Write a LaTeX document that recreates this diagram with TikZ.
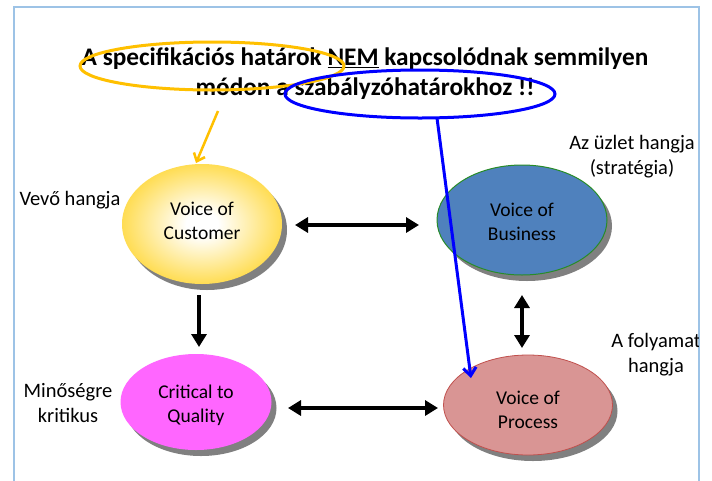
\documentclass[tikz,border=0pt]{standalone}
\usepackage{fontspec}
\setmainfont{Carlito}
\usetikzlibrary{arrows.meta,shapes.geometric,shadows}
\definecolor{frameblue}{RGB}{157,195,230}
\definecolor{gold}{RGB}{255,192,0}
\definecolor{vocY}{RGB}{255,212,40}
\definecolor{vocO}{RGB}{242,182,0}
\definecolor{vobFill}{RGB}{79,129,189}
\definecolor{vobLine}{RGB}{40,140,40}
\definecolor{ctqFill}{RGB}{255,102,255}
\definecolor{vopFill}{RGB}{217,149,148}
\definecolor{vopLine}{RGB}{192,80,77}
\pgfdeclareradialshading{vocshade}{\pgfpoint{0bp}{0bp}}{color(0bp)=(white); color(5bp)=(white); color(30bp)=(vocY); color(50bp)=(vocO)}
\tikzset{
  ell/.style={ellipse, inner sep=0pt,
    drop shadow={shadow xshift=5pt, shadow yshift=-6pt, fill=black!50, opacity=1}},
  elltext/.style={align=center, font=\fontsize{19.5}{24}\selectfont},
  lbl/.style={align=center, font=\fontsize{20.5}{25}\selectfont},
  bigarrow/.style={line width=3.5pt, {Triangle[length=13pt,width=15pt]}-{Triangle[length=13pt,width=15pt]}},
  bigarrowone/.style={line width=3.5pt, -{Triangle[length=13pt,width=15pt]}},
  mark ellipse/.style={ellipse, line width=3pt, inner sep=0pt},
}
\begin{document}
\begin{tikzpicture}[x=1pt,y=-1pt]
\useasboundingbox (0,0) rectangle (712,480);
\fill[white] (0,0) rectangle (712,480);
\draw[frameblue, line width=2pt] (14,482) -- (14,7) -- (699,7) -- (699,482);
\begin{scope}
\clip (15,8) rectangle (698,480);
% title
\node[align=center, font=\fontsize{25.3}{30}\selectfont\bfseries] (title) at (365,74)
  {A specifikációs határok \underline{NEM} kapcsolódnak semmilyen\\módon a szabályzóhatárokhoz !!};
% main ellipses
\node[ell, shade, shading=vocshade, minimum width=160pt, minimum height=120pt,
  label={[elltext, yshift=3pt]center:{Voice of\\Customer}}] (voc) at (202,224) {};
\node[ell, fill=vobFill, draw=vobLine, line width=1pt, minimum width=170pt, minimum height=110pt,
  label={[elltext, yshift=-2pt]center:{Voice of\\Business}}] (vob) at (522,220) {};
\node[ell, fill=ctqFill, minimum width=151pt, minimum height=96pt,
  label={[elltext, yshift=-3pt]center:{Critical to\\Quality}}] (ctq) at (196,402) {};
\node[ell, fill=vopFill, draw=vopLine, line width=0.8pt, minimum width=169pt, minimum height=100pt,
  label={[elltext, yshift=-5pt]center:{Voice of\\Process}}] (vop) at (528,405) {};
% labels
\node[lbl] (lvoc) at (70,200) {Vevő hangja};
\node[lbl] (lvob) at (632,157) {Az üzlet hangja\\(stratégia)};
\node[lbl] (lvop) at (656,355) {A folyamat\\hangja};
\node[lbl] (lctq) at (68,403) {Minőségre\\kritikus};
% black arrows
\coordinate (a1s) at (295,225); \coordinate (a1e) at (419,225);
\draw[bigarrow] (a1s) -- (a1e);
\coordinate (a2s) at (199,295); \coordinate (a2e) at (199,347);
\draw[bigarrowone] (a2s) -- (a2e);
\coordinate (a3s) at (522,295); \coordinate (a3e) at (522,348);
\draw[bigarrow] (a3s) -- (a3e);
\coordinate (a4s) at (288,408); \coordinate (a4e) at (438,408);
\draw[bigarrow] (a4s) -- (a4e);
% highlight ellipses
\node[mark ellipse, draw=gold, minimum width=264pt, minimum height=48pt] (oell) at (212,66) {};
\node[mark ellipse, draw=blue, minimum width=270pt, minimum height=48pt] (bell) at (420,94) {};
\coordinate (os) at (218,111); \coordinate (oe) at (196,163);
\draw[gold, line width=2.5pt, -{Straight Barb[length=7pt,width=12pt]}] (os) -- (oe);
\coordinate (bs) at (437,118); \coordinate (be) at (471,378);
\draw[blue, line width=3pt, -{Straight Barb[length=8pt,width=13pt]}] (bs) -- (be);
\end{scope}
\end{tikzpicture}
\end{document}
